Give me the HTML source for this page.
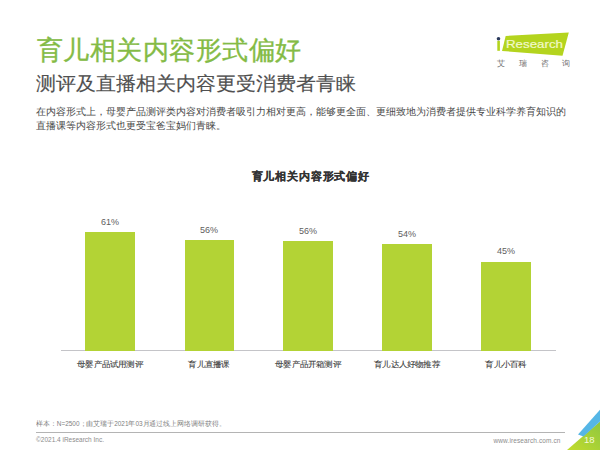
<!DOCTYPE html>
<html><head><meta charset="utf-8">
<style>
html,body{margin:0;padding:0;background:#fff;}
body{width:600px;height:450px;position:relative;overflow:hidden;font-family:"Liberation Sans",sans-serif;}
.a{position:absolute;white-space:nowrap;}
#t1{left:36.5px;top:29.5px;font-size:26px;letter-spacing:0.55px;line-height:40px;color:#84bb45;-webkit-text-stroke:0.35px #84bb45;}
#t2{left:36px;top:68.7px;font-size:20px;line-height:30px;color:#505050;-webkit-text-stroke:0.15px #505050;transform:scaleY(0.95);transform-origin:0 0;}
#p1{left:36px;top:104.8px;font-size:10px;line-height:14.3px;color:#4a4a4a;}
#ct{left:251.5px;top:167.5px;font-size:11px;letter-spacing:0.85px;line-height:16px;font-weight:bold;color:#333;-webkit-text-stroke:0.2px #333;}
.bar{position:absolute;background:#b3d335;width:49.7px;}
.lbl{position:absolute;font-size:9px;line-height:12px;color:#606060;text-align:center;width:80px;}
.cat{position:absolute;font-size:9px;line-height:12px;color:#3a3a3a;-webkit-text-stroke:0.12px #3a3a3a;text-align:center;width:100px;transform:scale(0.914,0.86);transform-origin:50% 0;}
#axis{position:absolute;left:61px;top:349.8px;width:495px;height:1px;background:#c4c4c8;}
#src{left:36px;top:418.6px;font-size:6.5px;line-height:9px;color:#7f7f7f;transform:scaleX(0.99);transform-origin:0 0;}
#hr{position:absolute;left:36px;top:432px;width:529px;height:1px;background:#b4b4b4;}
#cp{left:36px;top:435px;font-size:6.5px;line-height:9px;color:#8c8c8c;}
#www{left:493.5px;top:436px;font-size:6.5px;line-height:9px;color:#8c8c8c;letter-spacing:0.1px;}
</style></head><body>
<div class="a" id="t1">育儿相关内容形式偏好</div>
<div class="a" id="t2">测评及直播相关内容更受消费者青睐</div>
<div class="a" id="p1">在内容形式上，母婴产品测评类内容对消费者吸引力相对更高，能够更全面、更细致地为消费者提供专业科学养育知识的<br>直播课等内容形式也更受宝爸宝妈们青睐。</div>

<!-- logo -->
<svg style="position:absolute;left:0;top:0" width="600" height="450">
  <polygon points="505.7,36 568.8,32.4 562.5,55.7 502,51" fill="#b4d41e"/>
  <circle cx="498.5" cy="38.7" r="1.8" fill="#2b3a5c"/>
  <rect x="497.3" y="40.8" width="2.6" height="10" fill="#b4d41e"/>
  <text x="506" y="48.2" font-family="Liberation Sans" font-size="11.2" textLength="57" lengthAdjust="spacingAndGlyphs" fill="#f2f9c8" stroke="#f2f9c8" stroke-width="0.2">Research</text>
  <defs><linearGradient id="gg" x1="0" y1="1" x2="1" y2="0"><stop offset="0" stop-color="#c2dc2c"/><stop offset="1" stop-color="#8fc740"/></linearGradient></defs><polygon points="567,450 600,421.5 600,450" fill="url(#gg)"/>
  <polygon points="578,434.5 600,409.8 600,421.5 583.5,436.5" fill="#55b6e6"/>
</svg>
<div class="a" style="left:497px;top:58px;font-size:8px;line-height:12px;color:#707070;letter-spacing:13.8px">艾瑞咨询</div>

<div class="a" id="ct">育儿相关内容形式偏好</div>


<div id="axis"></div>
<div class="bar" style="left:85.3px;top:231.6px;height:119.2px"></div>
<div class="bar" style="left:184.8px;top:240px;height:110.8px"></div>
<div class="bar" style="left:283.4px;top:240.6px;height:110.2px"></div>
<div class="bar" style="left:382.1px;top:244px;height:106.8px"></div>
<div class="bar" style="left:481.1px;top:261.7px;height:89.1px"></div>
<div class="lbl" style="left:70px;top:216px">61%</div>
<div class="lbl" style="left:169px;top:224px">56%</div>
<div class="lbl" style="left:268px;top:225px">56%</div>
<div class="lbl" style="left:367px;top:228px">54%</div>
<div class="lbl" style="left:466px;top:245px">45%</div>

<div class="cat" style="left:60px;top:359px">母婴产品试用测评</div>
<div class="cat" style="left:159px;top:359px">育儿直播课</div>
<div class="cat" style="left:258px;top:359px">母婴产品开箱测评</div>
<div class="cat" style="left:357px;top:359px">育儿达人好物推荐</div>
<div class="cat" style="left:456px;top:359px">育儿小百科</div>

<div class="a" id="src">样本：N=2500；由艾瑞于2021年03月通过线上网络调研获得。</div>
<div id="hr"></div>
<div class="a" id="cp">©2021.4 iResearch Inc.</div>
<div class="a" id="www">www.iresearch.com.cn</div>
<div class="a" style="left:584px;top:434px;font-size:9.5px;line-height:11px;color:#f4f9d8">18</div>
</body></html>
